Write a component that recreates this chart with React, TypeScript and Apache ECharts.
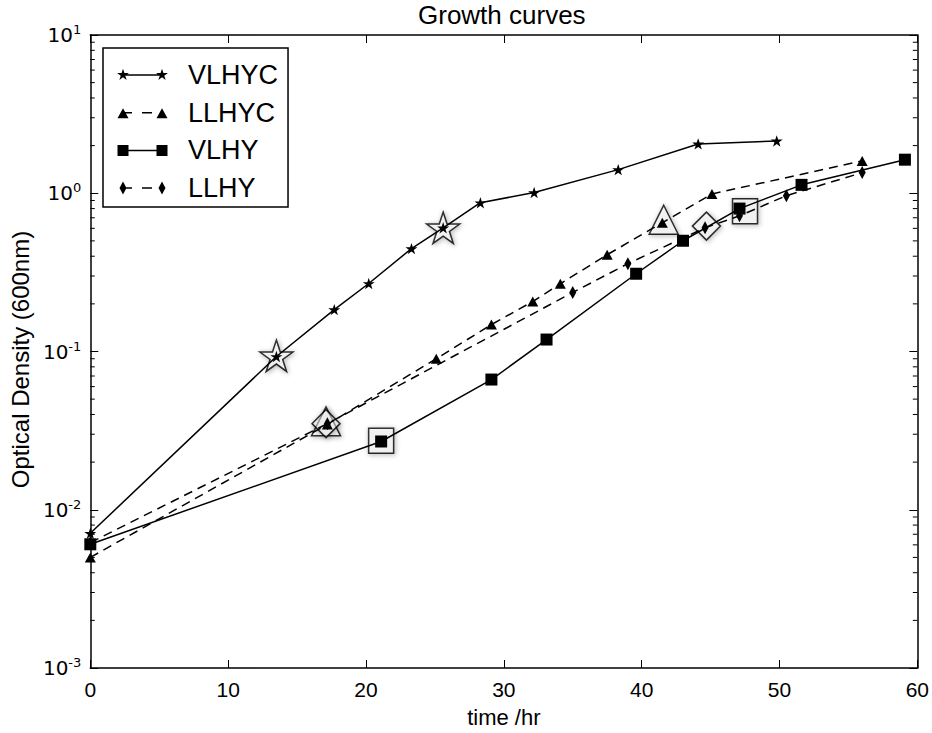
import React, { useEffect, useRef } from 'react';
import * as echarts from 'echarts';

// ---- data (time in hours, optical density at 600 nm)
const vlhycTime = [0, 13.5, 17.7, 20.2, 23.3, 25.6, 28.3, 32.2, 38.3, 44.1, 49.8];
const vlhycOD = [0.0071, 0.093, 0.184, 0.269, 0.447, 0.605, 0.871, 1.01, 1.41, 2.05, 2.14];

const llhycTime = [0, 17.2, 25.1, 29.1, 32.1, 34.1, 37.5, 41.5, 45.1, 56.0];
const llhycOD = [0.005, 0.0346, 0.09, 0.148, 0.207, 0.268, 0.409, 0.651, 0.99, 1.6];

const vlhyTime = [0, 21.1, 29.1, 33.1, 39.6, 43.0, 47.1, 51.6, 59.1];
const vlhyOD = [0.00605, 0.027, 0.0665, 0.119, 0.31, 0.501, 0.8, 1.13, 1.63];

const llhyTime = [0, 17.2, 35.0, 39.0, 44.6, 47.1, 50.5, 56.0];
const llhyOD = [0.0062, 0.035, 0.236, 0.359, 0.605, 0.72, 0.965, 1.35];

// highlighted (large open) markers
const vlhycHiTime = [13.5, 25.6];
const vlhycHiOD = [0.094, 0.605];
const llhycHiTime = [17.1, 41.6];
const llhycHiOD = [0.0362, 0.68];
const vlhyHiTime = [21.1, 47.5];
const vlhyHiOD = [0.0273, 0.77];
const llhyHiTime = [17.1, 44.7];
const llhyHiOD = [0.035, 0.62];

const seriesNames = ['VLHYC', 'LLHYC', 'VLHY', 'LLHY'];
const xTicks = { min: 0, max: 60, interval: 10 };
const yRange = { min: 0.001, max: 10 };
const minorMantissas = [2, 3, 4, 5, 6, 7, 8, 9];
const minorDecades = [0.001, 0.01, 0.1, 1];

// ---- symbol geometry helpers
const f = (n: number) => n.toFixed(3);
function starPath(cx: number, cy: number, r: number) {
  const ri = r * 0.382;
  let d = '';
  for (let k = 0; k < 10; k++) {
    const ang = (-90 + k * 36) * Math.PI / 180;
    const rr = k % 2 === 0 ? r : ri;
    d += (k === 0 ? 'M' : 'L') + f(cx + rr * Math.cos(ang)) + ' ' + f(cy + rr * Math.sin(ang)) + ' ';
  }
  return d + 'Z ';
}
function triPath(cx: number, cy: number, w: number, h: number) {
  return `M${f(cx)} ${f(cy - h / 2)} L${f(cx + w / 2)} ${f(cy + h / 2)} L${f(cx - w / 2)} ${f(cy + h / 2)} Z `;
}
function sqPath(cx: number, cy: number, s: number) {
  return `M${f(cx - s / 2)} ${f(cy - s / 2)} L${f(cx + s / 2)} ${f(cy - s / 2)} L${f(cx + s / 2)} ${f(cy + s / 2)} L${f(cx - s / 2)} ${f(cy + s / 2)} Z `;
}
function diaPath(cx: number, cy: number, w: number, h: number) {
  return `M${f(cx)} ${f(cy - h / 2)} L${f(cx + w / 2)} ${f(cy)} L${f(cx)} ${f(cy + h / 2)} L${f(cx - w / 2)} ${f(cy)} Z `;
}
function barPath(x1: number, x2: number, cy: number, t: number) {
  return `M${f(x1)} ${f(cy - t / 2)} L${f(x2)} ${f(cy - t / 2)} L${f(x2)} ${f(cy + t / 2)} L${f(x1)} ${f(cy + t / 2)} Z `;
}

const LW = 51; // legend icon width
const LH = 14;
const C1 = 6;
const C2 = 45;
const CY = 7;
const corners = `M0 0 L0 0 M${LW} ${LH} L${LW} ${LH} `;
const solidBar = barPath(C1, C2, CY, 1.5);
const dashBars = barPath(C1, C1 + 9, CY, 1.5) + barPath(C1 + 19, C1 + 29, CY, 1.5) + barPath(C2 - 2, C2, CY, 1.5);

const legendIcons: Record<string, string> = {
  VLHYC: 'path://' + corners + solidBar + starPath(C1, CY, 6.2) + starPath(C2, CY, 6.2),
  LLHYC: 'path://' + corners + dashBars + triPath(C1, CY + 0.5, 11, 10) + triPath(C2, CY + 0.5, 11, 10),
  VLHY: 'path://' + corners + solidBar + sqPath(C1, CY, 11) + sqPath(C2, CY, 11),
  LLHY: 'path://' + corners + dashBars + diaPath(C1, CY, 7, 13) + diaPath(C2, CY, 7, 13),
};

const STAR = 'path://' + starPath(0, 0, 10);

const pairs = (xs: number[], ys: number[]) => xs.map((x, i) => [x, ys[i]]);

const SANS = 'Liberation Sans, Arial, Helvetica, sans-serif';
const DASH = [9, 6];

function mainSeries(name: string, xs: number[], ys: number[], symbol: string, size: any, dash: any) {
  return {
    name,
    type: 'line',
    data: pairs(xs, ys),
    symbol,
    symbolSize: size,
    symbolKeepAspect: true,
    showSymbol: true,
    lineStyle: { color: '#000', width: 1.5, type: dash, dashOffset: 0 },
    itemStyle: { color: '#000', borderWidth: 0 },
    emphasis: { disabled: true },
    z: 4,
  };
}
function hiSeries(xs: number[], ys: number[], symbol: string, size: any) {
  return {
    type: 'scatter',
    data: pairs(xs, ys),
    symbol,
    symbolSize: size,
    symbolKeepAspect: true,
    itemStyle: {
      color: 'rgba(255,255,255,0.55)',
      borderColor: '#000',
      borderWidth: 1.5,
      shadowBlur: 5,
      shadowColor: 'rgba(0,0,0,0.45)',
      shadowOffsetX: 1,
      shadowOffsetY: 1,
    },
    emphasis: { disabled: true },
    silent: true,
    z: 3,
  };
}

const minorTickValues: number[] = [];
minorDecades.forEach((d) => minorMantissas.forEach((m) => minorTickValues.push(m * d)));

const yLabelRich = {
  b: { fontFamily: 'DejaVu Sans', fontSize: 20, lineHeight: 24, color: '#000' },
  s: { fontFamily: 'DejaVu Sans', fontSize: 13, lineHeight: 13, verticalAlign: 'top', color: '#000' },
};
const yFormatter = (v: number) => `{b|10}{s|${Math.round(Math.log10(v))}}`;

const option: any = {
  animation: false,
  backgroundColor: '#fff',
  title: {
    text: 'Growth curves',
    left: 418,
    top: 2,
    padding: 0,
    textStyle: { fontFamily: SANS, fontSize: 26, fontWeight: 'normal', color: '#000' },
  },
  grid: { left: 90, right: 14, top: 35, bottom: 65, containLabel: false },
  legend: {
    orient: 'vertical',
    left: 103,
    top: 48,
    padding: [12, 10, 4, 14],
    itemWidth: LW,
    itemHeight: LH,
    itemGap: 7.7,
    borderColor: '#000',
    borderWidth: 1.5,
    borderRadius: 0,
    backgroundColor: '#fff',
    selectedMode: false,
    symbolKeepAspect: false,
    itemStyle: { borderWidth: 0 },
    textStyle: { fontFamily: SANS, fontSize: 27, lineHeight: 30, color: '#000', padding: [0, 0, 0, 15] },
    data: seriesNames.map((n) => ({ name: n, icon: legendIcons[n] })),
    z: 10,
  },
  xAxis: [
    {
      type: 'value',
      position: 'bottom',
      min: xTicks.min,
      max: xTicks.max,
      interval: xTicks.interval,
      name: 'time /hr',
      nameLocation: 'middle',
      nameGap: 38,
      nameTextStyle: { fontFamily: SANS, fontSize: 22, color: '#000' },
      axisLine: { onZero: false, lineStyle: { color: '#000', width: 1.5 } },
      axisTick: { inside: true, length: 8, lineStyle: { color: '#000', width: 1 } },
      axisLabel: { fontFamily: SANS, fontSize: 21, color: '#000', margin: 11 },
      splitLine: { show: false },
    },
    {
      type: 'value',
      position: 'top',
      min: xTicks.min,
      max: xTicks.max,
      interval: xTicks.interval,
      axisLine: { onZero: false, lineStyle: { color: '#000', width: 1.5 } },
      axisTick: { inside: true, length: 8, lineStyle: { color: '#000', width: 1 } },
      axisLabel: { show: false },
      splitLine: { show: false },
    },
  ],
  yAxis: [
    {
      type: 'log',
      logBase: 10,
      position: 'left',
      min: yRange.min,
      max: yRange.max,
      name: 'Optical Density (600nm)',
      nameLocation: 'middle',
      nameGap: 58,
      nameTextStyle: { fontFamily: SANS, fontSize: 24, color: '#000', padding: [0, 16, 0, 0] },
      axisLine: { onZero: false, lineStyle: { color: '#000', width: 1.5 } },
      axisTick: { inside: true, length: 8, lineStyle: { color: '#000', width: 1 } },
      axisLabel: { formatter: yFormatter, rich: yLabelRich, margin: 9, showMinLabel: true, showMaxLabel: true },
      splitLine: { show: false },
    },
    {
      type: 'log',
      logBase: 10,
      position: 'right',
      min: yRange.min,
      max: yRange.max,
      axisLine: { onZero: false, lineStyle: { color: '#000', width: 1.5 } },
      axisTick: { inside: true, length: 8, lineStyle: { color: '#000', width: 1 } },
      axisLabel: { show: false },
      splitLine: { show: false },
    },
  ],
  series: [
    {
      type: 'custom',
      xAxisIndex: 0,
      yAxisIndex: 0,
      silent: true,
      clip: false,
      z: 1,
      data: minorTickValues.map((v) => [xTicks.min, v]),
      renderItem: (params: any, api: any) => {
        const v = api.value(1);
        const l = api.coord([xTicks.min, v]);
        const r = api.coord([xTicks.max, v]);
        const st = { stroke: '#000', lineWidth: 1 };
        return {
          type: 'group',
          children: [
            { type: 'line', shape: { x1: l[0], y1: l[1], x2: l[0] + 4.5, y2: l[1] }, style: st },
            { type: 'line', shape: { x1: r[0] - 4.5, y1: r[1], x2: r[0], y2: r[1] }, style: st },
          ],
        };
      },
    },
    hiSeries(vlhycHiTime, vlhycHiOD, STAR, 33),
    hiSeries(llhycHiTime, llhycHiOD, 'triangle', [29, 29]),
    hiSeries(vlhyHiTime, vlhyHiOD, 'rect', 25),
    hiSeries(llhyHiTime, llhyHiOD, 'diamond', [28, 28]),
    mainSeries('VLHYC', vlhycTime, vlhycOD, STAR, 12, 'solid'),
    mainSeries('LLHYC', llhycTime, llhycOD, 'triangle', [11, 10], DASH),
    mainSeries('VLHY', vlhyTime, vlhyOD, 'rect', 12, 'solid'),
    mainSeries('LLHY', llhyTime, llhyOD, 'diamond', [7, 13], DASH),
  ],
};

export default function App() {
  const ref = useRef<HTMLDivElement>(null);
  useEffect(() => {
    document.body.style.margin = '0';
    const chart = echarts.init(ref.current!, null, { renderer: 'svg' });
    chart.setOption(option);
    return () => chart.dispose();
  }, []);
  return <div ref={ref} style={{ width: 932, height: 733 }} />;
}
